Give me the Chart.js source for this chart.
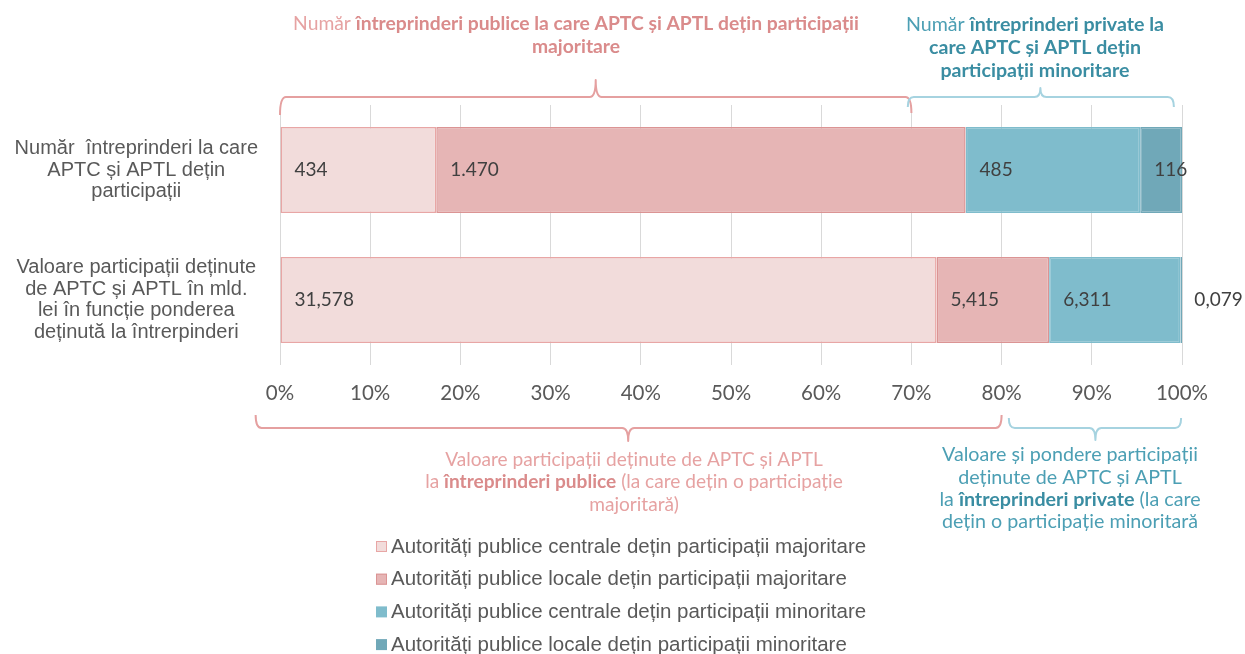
<!DOCTYPE html>
<html><head><meta charset="utf-8">
<script src="https://cdn.jsdelivr.net/npm/chart.js@4.4.1/dist/chart.umd.min.js"></script>
<style>html,body{margin:0;padding:0;background:#fff}#wrap{width:1245px;height:654px;position:relative}</style>
</head><body><div id="wrap"><canvas id="c" width="1245" height="654"></canvas></div>
<script>
const categories = [
  ["Număr  întreprinderi la care", "APTC și APTL dețin", "participații"],
  ["Valoare participații deținute", "de APTC și APTL în mld.", "lei în funcție ponderea", "deținută la întrerpinderi"]
];
const seriesNames = [
  "Autorități publice centrale dețin participații majoritare",
  "Autorități publice locale dețin participații majoritare",
  "Autorități publice centrale dețin participații minoritare",
  "Autorități publice locale dețin participații minoritare"
];
const centralMajoritare = [434, 31.578];
const localeMajoritare = [1470, 5.415];
const centralMinoritare = [485, 6.311];
const localeMinoritare = [116, 0.079];
const tickLabels = ["0%","10%","20%","30%","40%","50%","60%","70%","80%","90%","100%"];

const rawSeries = [centralMajoritare, localeMajoritare, centralMinoritare, localeMinoritare];
const totals = categories.map((_, i) => rawSeries.reduce((s, a) => s + a[i], 0));
const fills = ["#F2DCDB", "#E6B5B5", "#7FBCCC", "#70A8B8"];
const borders = ["#E8A6A5", "#DB9494", "#7FBCCC", "#70A8B8"];

function fmt(v, row) {
  if (row === 0) { return String(v).replace(/\B(?=(\d{3})+(?!\d))/g, "."); }
  return v.toFixed(3).replace(".", ",");
}

const datasets = rawSeries.map((arr, k) => ({
  label: seriesNames[k],
  data: arr.map((v, i) => v / totals[i] * 100),
  raw: arr,
  backgroundColor: fills[k],
  borderColor: borders[k],
  borderWidth: 1.5,
  borderSkipped: false,
  barPercentage: 0.66,
  categoryPercentage: 1
}));

function drawRich(ctx, parts, cx, y, size, colNormal, colBold) {
  let w = 0;
  parts.forEach(p => { ctx.font = (p[1] ? "bold " : "") + size + "px Lato"; p.w = ctx.measureText(p[0]).width; w += p.w; });
  let x = cx - w / 2;
  ctx.textBaseline = "middle"; ctx.textAlign = "left";
  parts.forEach(p => { ctx.font = (p[1] ? "bold " : "") + size + "px Lato"; ctx.fillStyle = p[1] ? colBold : colNormal; ctx.fillText(p[0], x, y); x += p.w; });
}

function brace(ctx, x1, x2, tip, yEnd1, yEnd2, yLine, yTip, color) {
  const r = 6;
  ctx.save();
  ctx.strokeStyle = color; ctx.lineWidth = 2; ctx.lineJoin = "round";
  ctx.beginPath();
  ctx.moveTo(x1, yEnd1);
  ctx.quadraticCurveTo(x1, yLine, x1 + r, yLine);
  ctx.lineTo(tip - r, yLine);
  ctx.quadraticCurveTo(tip, yLine, tip, yTip);
  ctx.quadraticCurveTo(tip, yLine, tip + r, yLine);
  ctx.lineTo(x2 - r, yLine);
  ctx.quadraticCurveTo(x2, yLine, x2, yEnd2);
  ctx.stroke();
  ctx.restore();
}

const annot = {
  id: "annot",
  afterDraw(chart) {
    const ctx = chart.ctx;
    const xs = chart.scales.x;
    const px = v => xs.getPixelForValue(v);
    ctx.save();
    // data labels
    chart.data.datasets.forEach((ds, k) => {
      const meta = chart.getDatasetMeta(k);
      meta.data.forEach((el, i) => {
        const left = Math.min(el.x, el.base);
        ctx.font = "19px Lato"; ctx.fillStyle = "#404040";
        ctx.textAlign = "left"; ctx.textBaseline = "middle";
        ctx.fillText(fmt(ds.raw[i], i), left + 14, el.y);
      });
    });
    const pinkN = "#E6A2A2", pinkB = "#DA8B8B", tealN = "#4C9FB4", tealB = "#3A8DA2";
    // top braces
    brace(ctx, px(0), px(70), px(35), 115, 113, 97, 80, "#E5A0A0");
    brace(ctx, px(69.6), px(99.1), px(84.3), 107, 107, 97, 88, "#A6D3E0");
    // bottom braces
    brace(ctx, px(-2.7), px(80), px(38.6), 415, 415, 428, 441, "#E5A0A0");
    brace(ctx, px(80.8), px(99.9), px(90.4), 418, 418, 428, 440, "#A6D3E0");
    // top texts
    drawRich(ctx, [["Număr ", false], ["întreprinderi publice la care APTC și APTL dețin participații", true]], 576, 24, 19.3, pinkN, pinkB);
    drawRich(ctx, [["majoritare", true]], 576, 47, 19.3, pinkN, pinkB);
    drawRich(ctx, [["Număr ", false], ["întreprinderi private la", true]], 1035, 25, 19.6, tealN, tealB);
    drawRich(ctx, [["care APTC și APTL dețin", true]], 1035, 48, 19.6, tealN, tealB);
    drawRich(ctx, [["participații minoritare", true]], 1035, 71, 19.6, tealN, tealB);
    // bottom texts
    drawRich(ctx, [["Valoare participații deținute de APTC și APTL", false]], 634, 460, 19.1, pinkN, pinkB);
    drawRich(ctx, [["la ", false], ["întreprinderi publice", true], [" (la care dețin o participație", false]], 634, 482, 19.1, pinkN, pinkB);
    drawRich(ctx, [["majoritară)", false]], 634, 505, 19.1, pinkN, pinkB);
    drawRich(ctx, [["Valoare și pondere participații", false]], 1070, 455, 19.7, tealN, tealB);
    drawRich(ctx, [["deținute de APTC și APTL", false]], 1070, 478, 19.7, tealN, tealB);
    drawRich(ctx, [["la ", false], ["întreprinderi private", true], [" (la care", false]], 1070, 500, 19.7, tealN, tealB);
    drawRich(ctx, [["dețin o participație minoritară", false]], 1070, 522, 19.7, tealN, tealB);
    // legend
    chart.data.datasets.forEach((ds, k) => {
      const y = 547 + k * 32.7;
      ctx.fillStyle = ds.backgroundColor; ctx.strokeStyle = ds.borderColor; ctx.lineWidth = 1;
      ctx.fillRect(376, y - 6, 11, 11);
      if (k < 2) ctx.strokeRect(376.5, y - 5.5, 10, 10);
      ctx.font = "20.5px 'Liberation Sans'"; ctx.fillStyle = "#595959";
      ctx.textAlign = "left"; ctx.textBaseline = "middle";
      ctx.fillText(ds.label, 391, y);
    });
    ctx.restore();
  }
};

new Chart(document.getElementById("c"), {
  type: "bar",
  data: { labels: categories, datasets },
  options: {
    indexAxis: "y",
    responsive: false,
    animation: false,
    layout: { padding: { top: 105, bottom: 249, right: 63, left: 0 } },
    plugins: { legend: { display: false }, tooltip: { enabled: false } },
    scales: {
      x: {
        stacked: true, min: 0, max: 100,
        afterFit(a) { a.height = 40; },
        grid: { color: "#D9D9D9", drawTicks: false },
        border: { display: false },
        ticks: { stepSize: 10, padding: 16, color: "#595959", font: { family: "Lato", size: 20.5 },
                 callback: (v) => tickLabels[Math.round(v / 10)] }
      },
      y: {
        stacked: true,
        afterFit(a) { a.width = 280; },
        grid: { display: false },
        border: { display: false },
        ticks: { crossAlign: "center", padding: 14, color: "#595959", font: { family: "'Liberation Sans'", size: 20, lineHeight: "21.5px" } }
      }
    }
  },
  plugins: [annot]
});
</script></body></html>
